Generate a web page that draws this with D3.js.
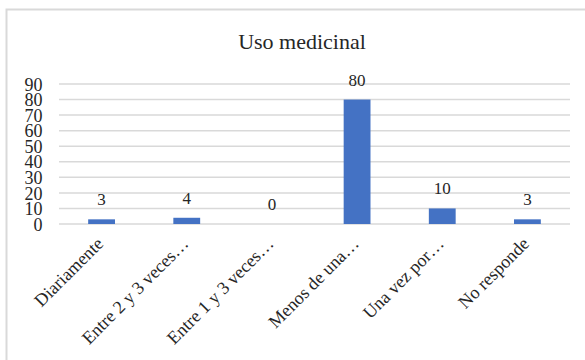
<!DOCTYPE html>
<html>
<head>
<meta charset="utf-8">
<script src="https://cdn.jsdelivr.net/npm/d3@7"></script>
</head>
<body style="margin:0">
<script>
// Frequency of medicinal use
const categories = ["Diariamente", "Entre 2 y 3 veces…", "Entre 1 y 3 veces…", "Menos de una…", "Una vez por…", "No responde"];
const values = [3, 4, 0, 80, 10, 3];
const yTicks = [0, 10, 20, 30, 40, 50, 60, 70, 80, 90];
const title = "Uso medicinal";

const FONT = "Liberation Serif";
const INK = "#262626";

const W = 585, H = 360;
const margin = { top: 84, right: 15, bottom: 136, left: 59 };

const svg = d3.select("body").append("svg")
  .attr("width", W).attr("height", H)
  .style("display", "block")
  .attr("font-family", FONT);

// chart area frame (top and left edges visible)
svg.append("path")
  .attr("d", `M6.5,${H} V9.5 H${W}`)
  .attr("fill", "none").attr("stroke", "#d9d9d9").attr("stroke-width", 2);

const x = d3.scaleBand().domain(categories).range([margin.left, W - margin.right]).paddingInner(0.685).paddingOuter(0.3425);
const y = d3.scaleLinear().domain([0, 90]).range([H - margin.bottom, margin.top]);

// horizontal gridlines
svg.append("g").selectAll("line").data(yTicks).join("line")
  .attr("x1", margin.left).attr("x2", W - margin.right)
  .attr("y1", d => y(d)).attr("y2", d => y(d))
  .attr("stroke", "#d9d9d9").attr("stroke-width", 1.5);

// y axis labels
const yAxis = d3.axisLeft(y).tickValues(yTicks).tickSize(0).tickPadding(0);
const gy = svg.append("g").attr("transform", `translate(${margin.left - 16.5},0)`).call(yAxis);
gy.select(".domain").remove();
gy.attr("font-family", FONT).attr("font-size", 18);
gy.selectAll("text").attr("font-family", FONT).attr("fill", INK).attr("dy", "0.34em");

// bars
svg.append("g").selectAll("rect").data(values).join("rect")
  .attr("x", (d, i) => x(categories[i]))
  .attr("width", x.bandwidth())
  .attr("y", d => y(d))
  .attr("height", d => y(0) - y(d))
  .attr("fill", "#4472c4");

// value labels
svg.append("g").selectAll("text").data(values).join("text")
  .attr("x", (d, i) => x(categories[i]) + x.bandwidth() / 2)
  .attr("y", d => y(d) - 14)
  .attr("text-anchor", "middle")
  .attr("font-family", FONT).attr("font-size", 17).attr("fill", INK)
  .text(d => d);

// rotated category labels
const xAxis = d3.axisBottom(x).tickSize(0).tickPadding(0);
const gx = svg.append("g").attr("transform", `translate(0,${y(0)})`).call(xAxis);
gx.select(".domain").remove();
gx.attr("font-family", FONT).attr("font-size", 18);
gx.selectAll("text")
  .attr("font-family", FONT).attr("fill", INK)
  .attr("text-anchor", "end")
  .attr("dy", "0.3em")
  .attr("transform", "translate(-1,17) rotate(-45)");

// title
svg.append("text")
  .attr("x", 302).attr("y", 49)
  .attr("text-anchor", "middle")
  .attr("font-family", FONT).attr("font-size", 22).attr("fill", INK)
  .text(title);
</script>
</body>
</html>
